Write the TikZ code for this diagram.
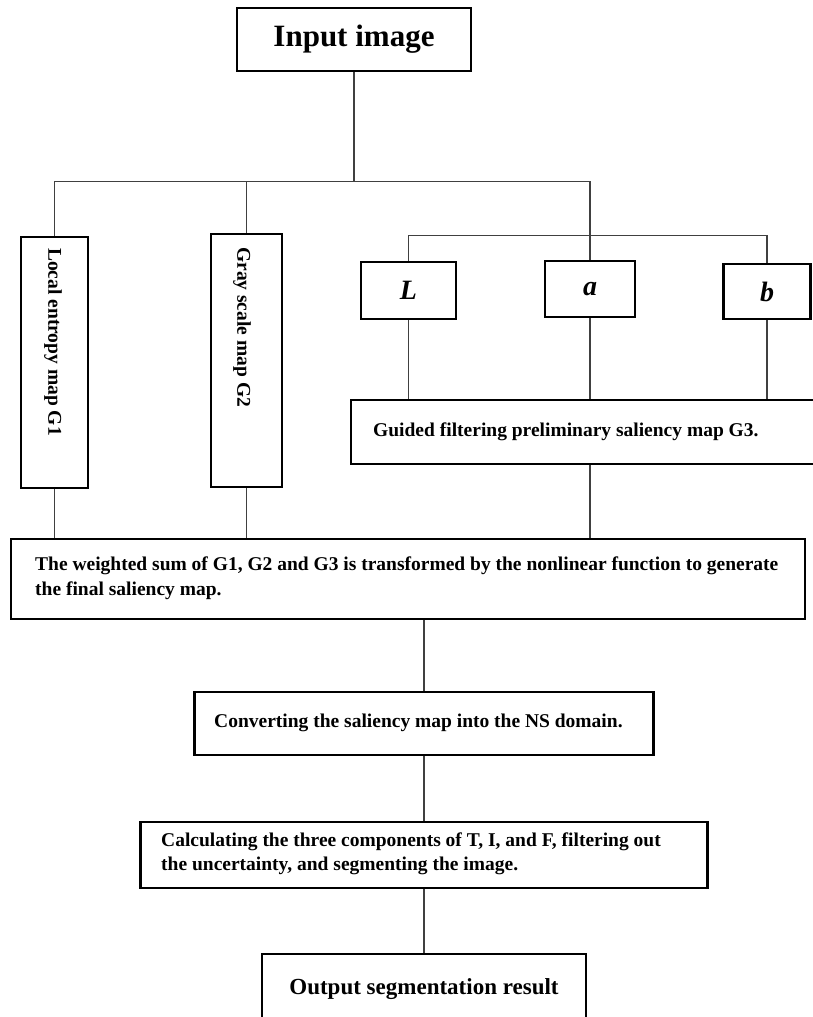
\documentclass[tikz,border=0pt]{standalone}
\usepackage{fontspec}
\setmainfont{Liberation Serif}
\begin{document}
\begin{tikzpicture}[x=1pt,y=-1pt,
  box/.style={draw=black, line width=2.6pt, inner sep=0pt},
  conn/.style={draw=black!75, line width=1.4pt},
  body/.style={font=\bfseries\fontsize{19.5}{24.5}\selectfont, inner sep=0pt},
  lab/.style={box, font=\bfseries\itshape\fontsize{28}{30}\selectfont}]
\useasboundingbox (0,0) rectangle (812,1017);
\fill[white] (0,0) rectangle (812,1017);

% boxes
\node[box, minimum width=234pt, minimum height=63pt, font=\bfseries\fontsize{31}{36}\selectfont] (input) at (354,39.5) {Input image};
\node[box, minimum width=67pt, minimum height=251pt] (g1) at (54.5,362.5) {};
\node[body, rotate=-90, anchor=west] (g1t) at (53,248) {Local entropy map G1};
\node[box, minimum width=71pt, minimum height=253pt] (g2) at (246.5,360.5) {};
\node[body, rotate=-90, anchor=west] (g2t) at (242,247) {Gray scale map G2};
\node[lab, minimum width=95pt, minimum height=57pt] (L) at (408.5,290.5) {L};
\node[lab, minimum width=90pt, minimum height=56pt] (a) at (590,289) {a};
\node[lab, minimum width=87pt, minimum height=55pt] (b) at (767,291.5) {b};
\node[box, minimum width=466pt, minimum height=64pt] (guided) at (584,432) {};
\node[body, anchor=west] (guidedt) at (373,432) {Guided filtering preliminary saliency map G3.};
\node[box, minimum width=794pt, minimum height=80pt] (weighted) at (408,579) {};
\node[body, anchor=west, align=left] (weightedt) at (35,578) {The weighted sum of G1, G2 and G3 is transformed by the nonlinear function to generate\\the final saliency map.};
\node[box, minimum width=459pt, minimum height=63pt] (conv) at (424,723.5) {};
\node[body, anchor=west] (convt) at (214,723) {Converting the saliency map into the NS domain.};
\node[box, minimum width=567pt, minimum height=66pt] (calc) at (424,855) {};
\node[body, anchor=west, align=left] (calct) at (161,854) {Calculating the three components of T, I, and F, filtering out\\the uncertainty, and segmenting the image.};
\node[box, minimum width=324pt, minimum height=71pt, font=\bfseries\fontsize{23}{28}\selectfont] (out) at (424,989.5) {Output segmentation result};

% connectors
\path (input.south) ++(0,109) coordinate (s1);
\draw[conn] (input.south) -- (s1);
\draw[conn] (s1) -| (g1.north);
\draw[conn] (s1) -| (g2.north);
\draw[conn] (s1) -| (a.north);
\path (a.north) ++(0,-24) coordinate (s2);
\draw[conn] (s2) -| (L.north);
\draw[conn] (s2) -| (b.north);
\draw[conn] (L.south) -- (L.south |- guided.north);
\draw[conn] (a.south) -- (a.south |- guided.north);
\draw[conn] (b.south) -- (b.south |- guided.north);
\draw[conn] (g1.south) -- (g1.south |- weighted.north);
\draw[conn] (g2.south) -- (g2.south |- weighted.north);
\draw[conn] (a.south |- guided.south) -- (a.south |- weighted.north);
\draw[conn] (conv.north |- weighted.south) -- (conv.north);
\draw[conn] (conv.south) -- (calc.north);
\draw[conn] (calc.south) -- (out.north);
\end{tikzpicture}
\end{document}
